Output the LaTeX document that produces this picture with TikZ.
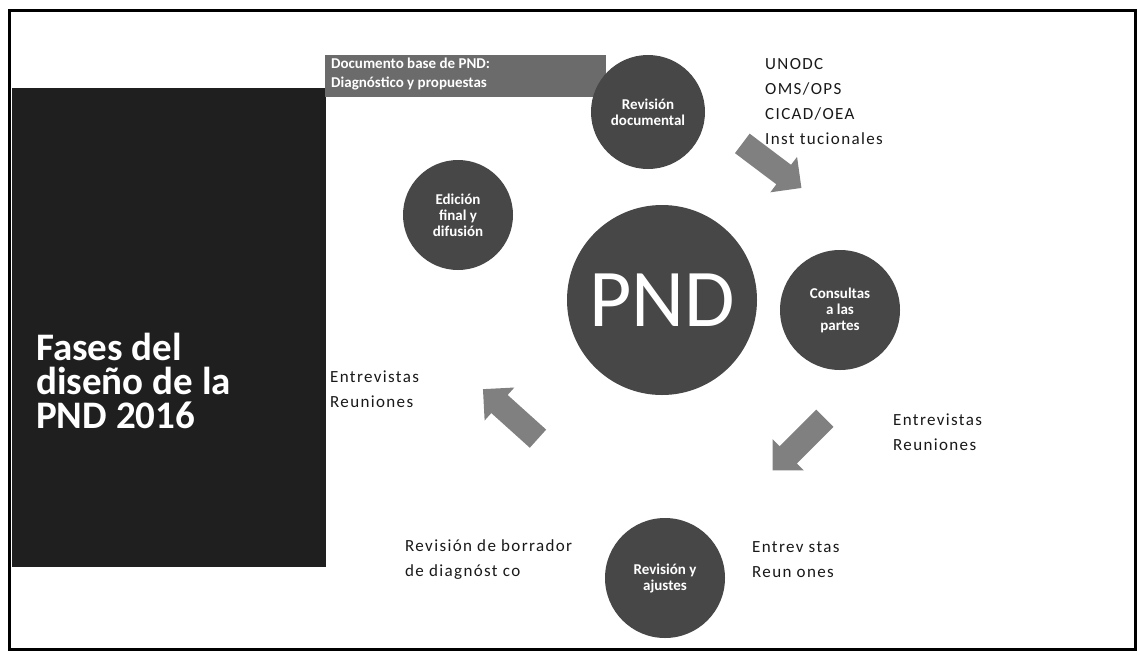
\documentclass[tikz,border=0pt]{standalone}
\usepackage{fontspec}
\setmainfont{Carlito}
\newfontfamily\bodyfont[LetterSpace=8]{Carlito}
\usetikzlibrary{shapes.arrows}
\begin{document}
\begin{tikzpicture}[x=1pt,y=-1pt,
  phase/.style={circle, fill=black!72, text=white, font=\bfseries\fontsize{15}{16}\selectfont, align=center, inner sep=0pt},
  blockarrow/.style={single arrow, fill=black!50, minimum height=74pt, inner xsep=0pt, inner ysep=12pt, single arrow head extend=10pt, single arrow head indent=0pt, anchor=center},
  note/.style={anchor=north west, align=left, font=\bodyfont\fontsize{17}{25}\selectfont, inner sep=0pt, text=black!90}
]
\useasboundingbox (0,0) rectangle (1140,654);
\fill[white] (0,0) rectangle (1140,654);
% left panel
\fill[black!88] (12,88) rectangle (326,567);
\node[anchor=west, text=white, align=left, inner sep=0pt, font=\bfseries\fontsize{39}{34}\selectfont] (title) at (36,381) {Fases del\\dise\~no de la\\PND 2016};
% banner
\fill[black!58] (325,55) rectangle (606,97);
\node[anchor=west, text=white, align=left, inner sep=0pt, font=\bfseries\fontsize{15}{19}\selectfont] (banner) at (331,74) {Documento base de PND:\\Diagn\'ostico y propuestas};
% circles
\node[phase, minimum size=114pt] (doc) at (648,112) {Revisi\'on\\documental};
\node[phase, minimum size=110pt] (edi) at (458,215) {Edici\'on\\final y\\difusi\'on};
\node[phase, minimum size=190pt, font=\fontsize{82}{82}\selectfont] (pnd) at (662,300) {PND};
\node[phase, minimum size=120pt] (con) at (840,310) {Consultas\\a las\\partes};
\node[phase, minimum size=120pt] (rev) at (665,578) {Revisi\'on y\\ajustes};
% block arrows
\node[blockarrow, rotate=-37] (a1) at (767,162) {};
\node[blockarrow, rotate=-135] (a2) at (803,440) {};
\node[blockarrow, rotate=138] (a3) at (515,418) {};
% notes
\node[note] (n1) at (765,58) {UNODC\\OMS/OPS\\CICAD/OEA\\Inst tucionales};
\node[note] (n2) at (330,371) {Entrevistas\\Reuniones};
\node[note] (n3) at (893,414) {Entrevistas\\Reuniones};
\node[note] (n4) at (752,541) {Entrev stas\\Reun ones};
\node[note] (n5) at (405,539) {Revisi\'on de borrador\\de diagn\'ost co};
% frame
\draw[line width=3pt] (9,10) rectangle (1135,649);
\end{tikzpicture}
\end{document}
